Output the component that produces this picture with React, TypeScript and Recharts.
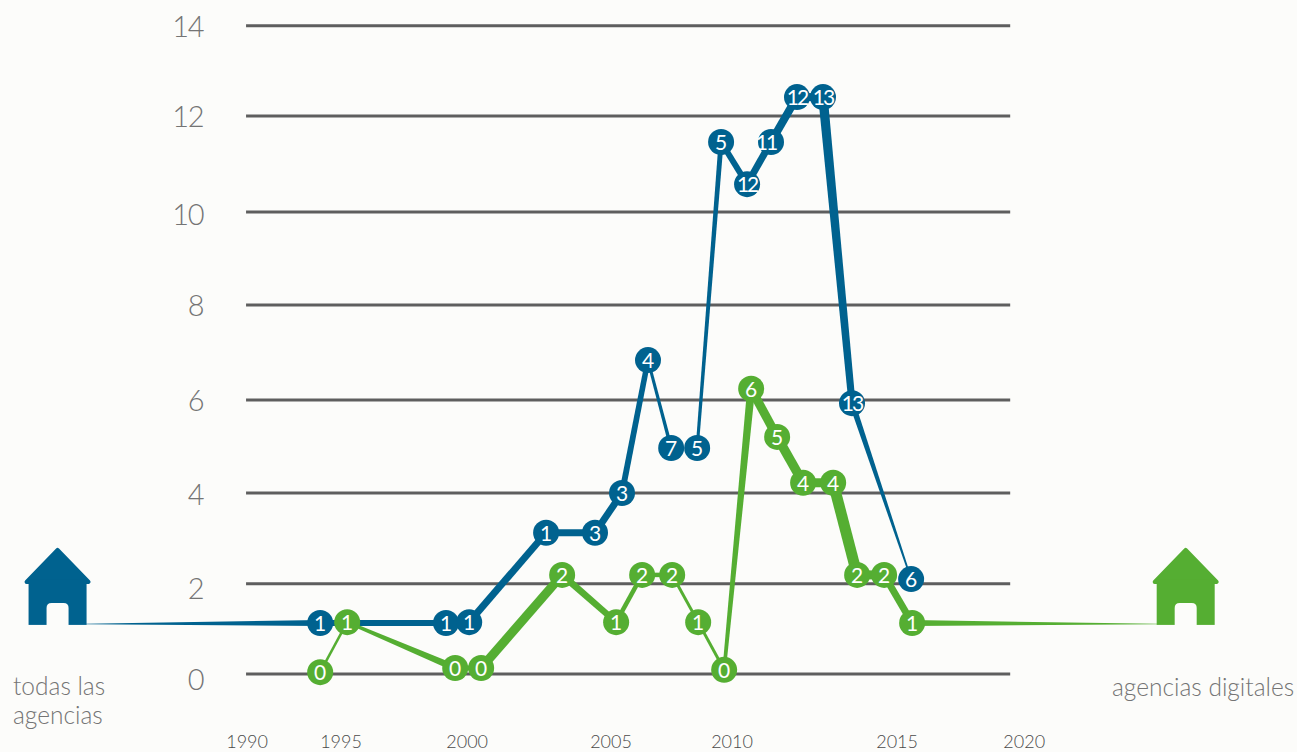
import React from 'react';
import { LineChart, Line, XAxis, YAxis, ReferenceLine, ReferenceDot } from 'recharts';

const BLUE = '#00628f';
const GREEN = '#55ae32';
const GRID = '#5e5e5e';
const BG = '#fcfcfa';
const TEXT = '#747474';
const FONT = 'Lato, sans-serif';

// the first blue point and the last green point are the house anchors, they get no marker
const blueYears = [1983.72, 1992.91, 1997.85, 1998.76, 2001.78, 2003.7, 2004.76, 2005.78, 2006.69, 2007.71, 2008.65, 2009.67, 2010.61, 2011.63, 2012.65, 2013.79, 2016.11];
const blueValues = [1.08, 1.1, 1.1, 1.12, 3.05, 3.05, 3.91, 6.78, 4.88, 4.88, 11.49, 10.58, 11.49, 12.46, 12.46, 5.85, 2.05];
const blueLabels = ['', '1', '1', '1', '1', '3', '3', '4', '7', '5', '5', '12', '11', '12', '13', '13', '6'];
const blueStart = [0.5, 6, 6, 7, 7, 7, 6, 3, 0, 3, 6, 7, 8, 8, 9.5, 6];
const blueEnd = [6, 6, 6, 7, 7, 7, 5.5, 3.5, 0, 5, 6, 7, 8, 8, 7, 1.5];

const greenYears = [1992.91, 1993.97, 1998.21, 1999.23, 2002.41, 2004.53, 2005.55, 2006.73, 2007.75, 2008.77, 2009.83, 2010.85, 2011.87, 2013.05, 2013.99, 2015.05, 2016.15, 2025.77];
const greenValues = [0.04, 1.12, 0.13, 0.13, 2.14, 1.12, 2.14, 2.14, 1.12, 0.09, 6.16, 5.12, 4.13, 4.13, 2.14, 2.14, 1.1, 1.08];
const greenLabels = ['0', '1', '0', '0', '2', '1', '2', '2', '1', '0', '6', '5', '4', '4', '2', '2', '1', ''];
const greenStart = [2.5, 3, 5, 9, 7, 4.5, 4.5, 3, 3, 3.5, 9, 9.5, 9, 11, 9, 7, 6];
const greenEnd = [2.5, 7, 5, 9, 6, 4.5, 4.5, 3, 3, 8, 9, 9.5, 9, 11, 9, 7, 0.3];

// the picture's lines and labels are not evenly spaced, so each one keeps its own value
const gridValues = [0, 1.95, 3.91, 5.92, 7.97, 9.98, 12.05, 14];
const yTickValues = [-0.13, 1.84, 3.87, 5.9, 7.95, 9.91, 12.02, 13.97];
const yTickLabels = ['0', '2', '4', '6', '8', '10', '12', '14'];
const xTickValues = [1990.04, 1993.73, 1998.68, 2004.33, 2009.08, 2015.56, 2020.55];
const xTickLabels = ['1990', '1995', '2000', '2005', '2010', '2015', '2020'];

const buildRows = (years: number[], values: number[], labels: string[]) =>
  years.map((x, i) => ({ x, y: values[i], label: labels[i] }));

const blueData = buildRows(blueYears, blueValues, blueLabels);
const greenData = buildRows(greenYears, greenValues, greenLabels);

// one tapered piece of line between this point and the next
const segmentDot = (color: string, start: number[], end: number[]) => (props: any) => {
  const { cx, cy, index, points } = props;
  const next = points && points[index + 1];
  if (!next || !start[index]) return <g key={index} />;
  const dx = next.x - cx;
  const dy = next.y - cy;
  const len = Math.hypot(dx, dy) || 1;
  const nx = -dy / len;
  const ny = dx / len;
  const a = start[index] / 2;
  const b = end[index] / 2;
  const d = `M${cx + nx * a},${cy + ny * a} L${next.x + nx * b},${next.y + ny * b} L${next.x - nx * b},${next.y - ny * b} L${cx - nx * a},${cy - ny * a} Z`;
  return <path key={index} d={d} fill={color} />;
};

const markerDot = (color: string) => (props: any) => {
  const { cx, cy, index, payload } = props;
  if (!payload.label) return <g key={index} />;
  return (
    <g key={index}>
      <circle cx={cx} cy={cy} r={13} fill={color} />
      <text
        x={payload.label === '11' ? cx - 5 : cx}
        y={cy + 8}
        textAnchor="middle"
        fill="#ffffff"
        fontFamily={FONT}
        fontSize={21}
        letterSpacing={payload.label.length > 1 ? -2 : 0}
      >
        {payload.label}
      </text>
    </g>
  );
};

const House = (color: string) => (props: any) => {
  const { cx, cy } = props;
  return (
    <g transform={`translate(${cx},${cy})`}>
      <path d="M0,-75 L31,-43 L-31,-43 Z" fill={color} stroke={color} strokeWidth={4} strokeLinejoin="round" />
      <rect x={-29} y={-45} width={58} height={45} fill={color} />
      <path d="M-11,0 V-17 Q-11,-22 -6,-22 H6 Q11,-22 11,-17 V0 Z" fill={BG} />
    </g>
  );
};

const XTick = ({ x, index }: any) => (
  <text x={x} y={748} textAnchor="middle" fill="#4a4a4a" fontFamily={FONT} fontWeight={300} fontSize={18}>
    {xTickLabels[index]}
  </text>
);

const YTick = ({ y, index }: any) => (
  <text x={203} y={y + 10} textAnchor="end" fill={TEXT} fontFamily={FONT} fontWeight={300} fontSize={29} letterSpacing={-1.5}>
    {yTickLabels[index]}
  </text>
);

const sideText = { fill: TEXT, fontFamily: FONT, fontWeight: 300, fontSize: 24.5 };

export default function App() {
  return (
    <div style={{ position: 'absolute', left: 0, top: 0, width: 1297, height: 752, background: BG }}>
      <LineChart width={1297} height={752} margin={{ top: 0, right: 0, bottom: 0, left: 0 }}>
        <XAxis
          type="number"
          dataKey="x"
          domain={[1980.34, 2031.26]}
          ticks={xTickValues}
          interval={0}
          mirror
          axisLine={false}
          tickLine={false}
          tick={XTick}
        />
        <YAxis
          type="number"
          dataKey="y"
          domain={[-1.685, 14.557]}
          ticks={yTickValues}
          interval={0}
          mirror
          axisLine={false}
          tickLine={false}
          tick={YTick}
        />
        {gridValues.map(v => (
          <ReferenceLine
            key={v}
            segment={[{ x: 1990, y: v }, { x: 2020, y: v }]}
            stroke={GRID}
            strokeWidth={3}
          />
        ))}
        <ReferenceDot x={1982.6} y={1.06} r={0} shape={House(BLUE)} />
        <ReferenceDot x={2026.89} y={1.06} r={0} shape={House(GREEN)} />
        <Line data={blueData} dataKey="y" stroke="none" isAnimationActive={false} dot={segmentDot(BLUE, blueStart, blueEnd)} activeDot={false} />
        <Line data={blueData} dataKey="y" stroke="none" isAnimationActive={false} dot={markerDot(BLUE)} activeDot={false} />
        <Line data={greenData} dataKey="y" stroke="none" isAnimationActive={false} dot={segmentDot(GREEN, greenStart, greenEnd)} activeDot={false} />
        <Line data={greenData} dataKey="y" stroke="none" isAnimationActive={false} dot={markerDot(GREEN)} activeDot={false} />
        <text x={13} y={695} {...sideText}>todas las</text>
        <text x={13} y={724} {...sideText}>agencias</text>
        <text x={1112} y={696} {...sideText}>agencias digitales</text>
      </LineChart>
    </div>
  );
}
